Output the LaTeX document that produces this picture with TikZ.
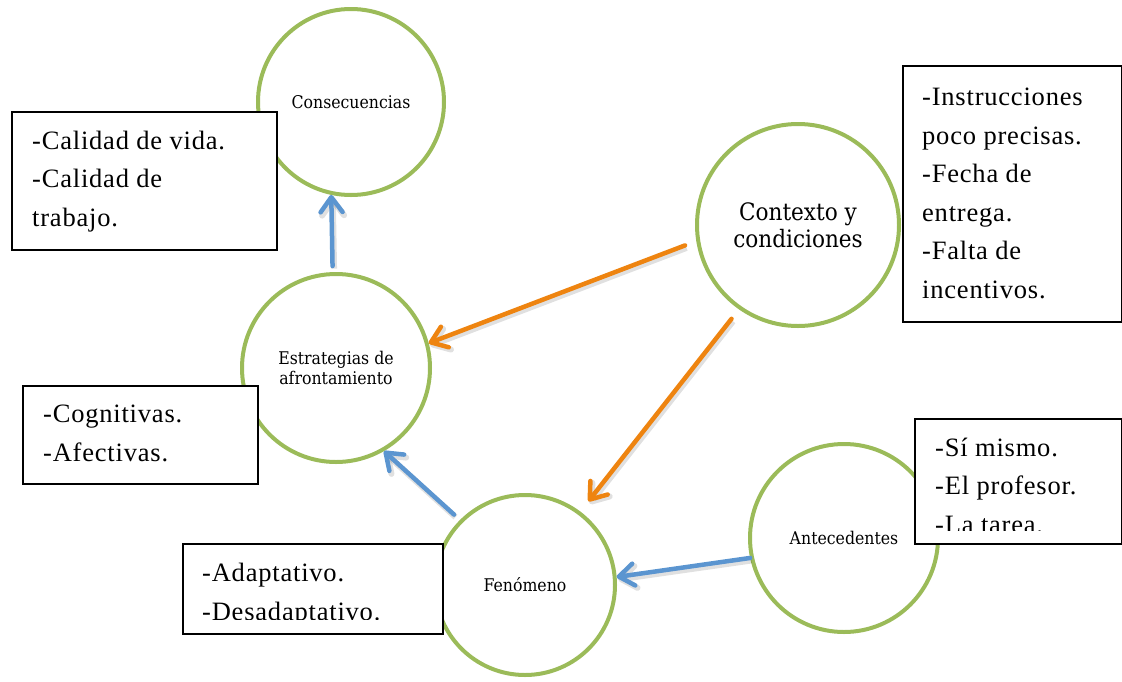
\documentclass[tikz,border=0pt]{standalone}
\usepackage{fontspec}
\setmainfont{Liberation Serif}
\newfontfamily\boxfont[LetterSpace=3]{Liberation Serif}
\newfontfamily\labelfont{DejaVu Serif Condensed}
\usetikzlibrary{arrows.meta}

\definecolor{ringgreen}{HTML}{9BBB59}
\definecolor{linkblue}{HTML}{5B95D0}
\definecolor{linkorange}{HTML}{EE8410}

\tikzset{
  topic/.style={circle, draw=ringgreen, line width=4pt, fill=white, inner sep=0pt,
    align=center, font={\labelfont\fontsize{17.5}{19.5}\selectfont}},
  listbox/.style={draw=black, line width=1.6pt, fill=white, inner sep=0pt, anchor=north west},
  % placed at the baseline of the last line
  listtext/.style={anchor=base west, inner sep=0pt, align=left,
    font={\boxfont\fontsize{26.5}{38.5}\selectfont}},
  link/.style={line width=4.5pt, line cap=round,
    -{Straight Barb[length=15pt, width=22pt, line cap=round, line join=round]},
    preaction={draw=black, opacity=0.12, line width=6pt,
      transform canvas={shift={(1.5pt,-2.5pt)}}}},
  bluelink/.style={link, draw=linkblue},
  orangelink/.style={link, draw=linkorange}
}

\begin{document}
\begin{tikzpicture}[x=1pt, y=-1pt]
  \useasboundingbox (0,0) rectangle (1122,681);

  % topic circles
  \node[topic, minimum size=186pt] (cons) at (351,102) {Consecuencias};
  \node[topic, minimum size=202pt, font={\labelfont\fontsize{24}{27}\selectfont}] (ctx) at (798,225) {Contexto y\\condiciones};
  \node[topic, minimum size=188pt] (estr) at (336,368) {Estrategias de\\afrontamiento};
  \node[topic, minimum size=180pt] (fen) at (525,585) {Fenómeno};
  \node[topic, minimum size=188pt] (ant) at (844,538) {Antecedentes};

  % list boxes
  \node[listbox, minimum width=265pt, minimum height=138pt] (b1) at (11,111) {};
  \node[listtext] (t1) at (32,226) {-Calidad de vida.\\-Calidad de\\trabajo.};

  \node[listbox, minimum width=219pt, minimum height=256pt] (b2) at (902,65) {};
  \node[listtext] (t2) at (922,298) {-Instrucciones\\poco precisas.\\-Fecha de\\entrega.\\-Falta de\\incentivos.};

  \node[listbox, minimum width=235pt, minimum height=98pt] (b3) at (22,385) {};
  \node[listtext] (t3) at (43,461) {-Cognitivas.\\-Afectivas.};

  \node[listbox, minimum width=207pt, minimum height=125pt] (b4) at (914,418) {};
  \begin{scope}
    \clip (b4.north west) rectangle ([yshift=14pt]b4.south east);
    \node[listtext] (t4) at (935,533) {-Sí mismo.\\-El profesor.\\-La tarea.};
  \end{scope}

  \node[listbox, minimum width=260pt, minimum height=90pt] (b5) at (182,543) {};
  \begin{scope}
    \clip (b5.north west) rectangle ([yshift=15pt]b5.south east);
    \node[listtext] (t5) at (202,620) {-Adaptativo.\\-Desadaptativo.};
  \end{scope}

  % connectors
  \draw[bluelink, shorten <=6pt] (estr.92) -- (cons.258);
  \draw[orangelink, shorten <=12pt] (ctx.189.5) -- (estr.15.5);
  \draw[orangelink, shorten <=12pt, shorten >=13pt] (ctx.235.3) -- (fen.53.2);
  \draw[bluelink, shorten <=8pt] (fen.135) -- (estr.300);
  \draw[bluelink] (ant.192) -- (fen.5);
\end{tikzpicture}
\end{document}
